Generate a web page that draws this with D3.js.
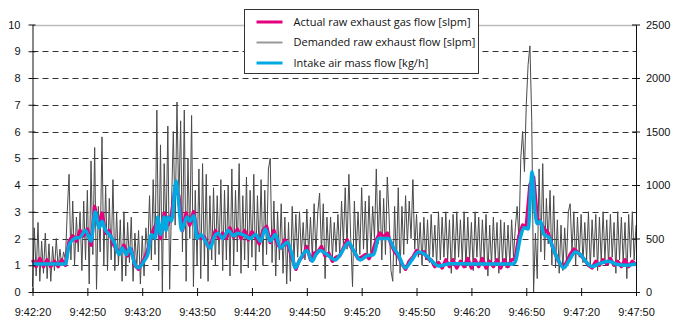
<!DOCTYPE html>
<html>
<head>
<meta charset="utf-8">
<script src="https://cdn.jsdelivr.net/npm/d3@7"></script>
<style>
  body { margin: 0; background: #fff; }
  svg { display: block; font-family: "Open Sans", sans-serif; }
  .axis text { font-size: 11px; fill: #111; }
  .axis path, .axis line { stroke: #111; }
</style>
</head>
<body>
<section></section>
<script>
// x tick labels (every 30 s from 9:42:20)
const xTickLabels = ["9:42:20", "9:42:50", "9:43:20", "9:43:50", "9:44:20", "9:44:50",
  "9:45:20", "9:45:50", "9:46:20", "9:46:50", "9:47:20", "9:47:50"];
const leftTicks = [0, 1, 2, 3, 4, 5, 6, 7, 8, 9, 10];
const rightTicks = [0, 500, 1000, 1500, 2000, 2500];
const seriesNames = ["Actual raw exhaust gas flow [slpm]", "Demanded raw exhaust flow [slpm]", "Intake air mass flow [kg/h]"];

// demanded raw exhaust flow [slpm], one value per second from 9:42:20
const demanded = [
  0.2, 2.4, 0.6, 2.6, 0.4, 1.9, 0.7, 2.2, 0.5, 1.8,
  0.4, 1.7, 0.8, 2.0, 0.9, 1.6, 1.0, 1.5, 1.2, 3.0,
  4.4, 1.2, 3.4, 1.0, 2.8, 1.5, 3.0, 0.8, 3.4, 1.2,
  3.8, 0.3, 4.9, 1.4, 5.4, 0.1, 3.2, 1.5, 5.8, 1.0,
  4.0, 0.8, 3.5, 1.2, 4.2, 0.8, 3.0, 1.0, 2.7, 0.4,
  3.0, 0.6, 2.6, 1.1, 2.8, 0.4, 2.2, 0.9, 2.3, 0.3,
  2.1, 0.6, 2.4, 1.5, 3.6, 1.2, 4.2, 1.4, 6.8, 0.8,
  5.5, 0.0, 4.8, 2.0, 6.2, 0.1, 3.2, 6.0, 2.5, 7.1,
  3.2, 6.4, 1.5, 6.8, 0.4, 5.0, 2.0, 6.6, 0.2, 3.8,
  1.0, 4.6, 0.5, 4.8, 1.0, 4.4, 0.4, 3.6, 1.2, 3.9,
  1.0, 3.6, 1.4, 4.2, 0.8, 3.8, 1.2, 4.0, 0.6, 4.6,
  1.0, 3.8, 1.5, 4.8, 0.7, 3.6, 1.2, 4.3, 0.9, 3.8,
  1.3, 4.4, 0.8, 3.6, 1.5, 4.2, 1.0, 3.8, 1.4, 4.6,
  5.0, 1.1, 3.4, 0.6, 3.0, 1.2, 3.3, 0.7, 2.8, 0.3,
  2.6, 0.4, 3.2, 1.2, 2.9, 1.3, 3.0, 1.4, 2.6, 1.2,
  3.1, 1.4, 2.8, 1.3, 3.3, 1.4, 3.0, 3.7, 1.5, 3.3,
  0.5, 2.8, 1.4, 2.8, 1.3, 2.6, 1.5, 2.9, 1.4, 3.4,
  1.8, 3.9, 1.6, 4.4, 2.0, 0.2, 3.4, 1.5, 3.0, 1.4,
  3.9, 1.6, 3.4, 1.3, 3.6, 1.5, 3.2, 2.0, 4.6, 1.8,
  3.8, 1.2, 3.5, 1.4, 4.3, 2.8, 0.8, 0.4, 3.2, 1.0,
  3.9, 0.7, 3.2, 1.4, 3.6, 1.8, 3.4, 2.0, 4.2, 1.6,
  2.9, 1.3, 2.6, 1.0, 2.8, 1.2, 2.7, 1.1, 2.9, 1.3,
  2.5, 1.0, 3.0, 1.2, 2.8, 1.3, 3.0, 1.2, 2.7, 0.7,
  2.9, 1.2, 3.0, 1.3, 2.7, 1.1, 3.0, 0.9, 2.8, 1.2,
  2.6, 0.8, 3.0, 1.3, 2.8, 1.0, 2.7, 1.2, 2.9, 0.6,
  2.5, 1.0, 2.8, 1.2, 2.6, 0.7, 2.7, 1.1, 2.6, 0.9,
  2.5, 1.0, 2.7, 1.3, 2.4, 3.2, 2.0, 5.0, 6.0, 4.5,
  7.0, 8.5, 9.2, 6.4, 0.0, 2.2, 0.5, 4.6, 1.5, 4.8,
  1.2, 3.5, 1.8, 3.8, 1.0, 3.6, 0.9, 2.7, 0.7, 2.5,
  0.8, 2.4, 1.1, 3.0, 3.3, 1.5, 3.0, 1.0, 2.8, 1.3,
  2.9, 1.1, 2.6, 1.2, 3.0, 0.9, 2.7, 1.3, 2.9, 0.8,
  2.8, 1.1, 3.0, 1.2, 2.7, 1.0, 2.9, 1.3, 2.6, 0.7,
  3.0, 1.2, 2.8, 1.1, 2.6, 0.5, 2.9, 1.3, 3.0, 1.2, 2.5
];

// actual raw exhaust gas flow [slpm], one value every 2 s
const actual = [
  1.2, 0.95, 1.25, 0.95, 1.2, 0.95, 1.15, 0.95, 1.2, 1.0,
  1.9, 2.1, 1.9, 2.3, 2.1, 2.35, 1.75, 3.2, 2.5, 2.95,
  2.2, 2.3, 1.8, 1.6, 1.5, 1.75, 1.35, 1.6, 1.0, 0.85,
  1.1, 1.35, 1.8, 2.3, 2.6, 2.0, 2.95, 2.5, 2.9, 3.9,
  3.6, 2.3, 2.95, 2.5, 3.0, 2.2, 2.0, 2.05, 1.7, 1.9,
  2.3, 2.0, 2.2, 2.0, 2.4, 2.05, 2.35, 2.0, 2.3, 1.95,
  2.25, 2.05, 1.8, 2.3, 2.45, 1.85, 2.3, 1.75, 1.65, 1.95,
  1.7, 1.25, 0.85, 1.2, 1.35, 1.7, 1.2, 1.45, 1.5, 1.7,
  1.35, 1.45, 1.15, 1.3, 1.35, 1.65, 1.95, 1.7, 1.5, 1.25,
  1.3, 1.4, 1.25, 1.5, 1.95, 2.2, 2.05, 2.2, 1.8, 1.5,
  1.35, 1.05, 0.85, 1.15, 1.3, 1.55, 1.45, 1.5, 1.25, 1.2,
  0.95, 1.1, 0.9, 1.2, 0.95, 1.2, 0.9, 1.15, 0.95, 1.25,
  0.9, 1.2, 0.95, 1.25, 0.9, 1.15, 0.95, 1.2, 0.9, 1.2,
  0.95, 1.2, 1.25, 2.1, 2.5, 2.45, 4.0, 4.3, 2.75, 2.55,
  2.35, 2.2, 1.75, 1.4, 1.1, 0.95, 1.1, 1.4, 1.6, 1.5,
  1.35, 1.2, 1.0, 0.9, 1.15, 1.0, 1.2, 1.05, 1.25, 1.0,
  1.15, 0.95, 1.2, 0.95, 1.15, 1.0
];

// intake air mass flow [kg/h]: seconds from 9:42:20 and values
const intakeTime = [0, 18, 20, 23, 26, 29, 32, 34.3, 36.5, 38, 40, 42, 44.7, 47.4, 49, 51.5, 53, 56, 57.8,
  61.4, 63, 65, 67, 68.5, 70, 72, 73, 74, 76, 78.5, 80, 81.5, 84.5, 86, 88.2, 90, 92, 94.5, 97.3, 99,
  101.5, 104, 107, 110, 112, 116.4, 119, 122, 124.6, 127.3, 130, 132.8, 135.5, 139.2, 141.9, 143.7,
  145.5, 147.4, 150.1, 152.9, 155, 157.4, 161, 165.6, 168.3, 172.9, 175.6, 179.2, 182.9, 186.5, 189.3,
  194.7, 197.5, 200, 203.8, 207.5, 211.1, 214.7, 218.4, 222.1, 228.5, 240, 247.5, 263, 264.1, 266.8,
  268.7, 271, 273.2, 274.6, 276, 277.8, 279.6, 282.3, 285.1, 287.8, 290.5, 293.2, 296.9, 299.6, 302.4,
  306, 309.6, 315.1, 318.8, 324.2, 330];
const intakeFlow = [262, 262, 438, 500, 512, 575, 475, 750, 600, 662, 575, 538, 462, 350, 412, 350, 412, 262, 225,
  300, 350, 538, 500, 700, 538, 700, 575, 700, 662, 1038, 825, 575, 700, 662, 712, 500, 538, 475, 412, 500,
  550, 500, 575, 525, 550, 525, 500, 538, 475, 588, 475, 538, 412, 462, 350, 225,
  275, 338, 388, 288, 350, 388, 350, 300, 350, 462, 388, 300, 338, 350, 500,
  500, 412, 350, 225, 300, 375, 350, 288, 242, 265, 262, 262, 262, 288, 512,
  600, 588, 1125, 788, 638, 662, 538, 512, 388, 288, 225, 288, 375, 350, 288,
  238, 262, 288, 262, 250, 262];

const width = 673;
const height = 320;
const margin = { left: 32.5, right: 37, top: 24.5, bottom: 28 };

const svg = d3.select("section")
  .append("svg")
  .attr("width", width)
  .attr("height", height);

const xScale = d3.scaleLinear()
  .domain([0, 330])
  .range([margin.left, width - margin.right]);

const yScale = d3.scaleLinear()
  .domain([0, 10])
  .range([height - margin.bottom, margin.top]);

const y2Scale = d3.scaleLinear()
  .domain([0, 2500])
  .range([height - margin.bottom, margin.top]);

//Grid lines
svg.append("g")
  .selectAll("line")
  .data(leftTicks.filter(d => d > 0))
  .enter()
  .append("line")
  .attr("x1", margin.left)
  .attr("x2", width - margin.right)
  .attr("y1", d => Math.round(yScale(d)) + 0.5)
  .attr("y2", d => Math.round(yScale(d)) + 0.5)
  .attr("stroke", d => d === 10 ? "#bbb" : "#333")
  .attr("stroke-width", d => d === 10 ? 1.5 : 1)
  .attr("stroke-dasharray", d => d === 10 ? null : "6,4");

//Series lines
const demandLine = d3.line()
  .x((d, i) => xScale(i))
  .y(d => yScale(d));

const actualLine = d3.line()
  .x((d, i) => xScale(i * 2))
  .y(d => yScale(d));

const intakeLine = d3.line()
  .x((d, i) => xScale(intakeTime[i]))
  .y(d => y2Scale(d))
  .curve(d3.curveMonotoneX);

svg.append("path")
  .datum(demanded)
  .attr("d", demandLine)
  .attr("fill", "none")
  .attr("stroke", "#4a4a4a")
  .attr("stroke-width", 1);

svg.append("path")
  .datum(actual)
  .attr("d", actualLine)
  .attr("fill", "none")
  .attr("stroke", "#e4007c")
  .attr("stroke-width", 3.5)
  .attr("stroke-linejoin", "round");

svg.append("path")
  .datum(intakeFlow)
  .attr("d", intakeLine)
  .attr("fill", "none")
  .attr("stroke", "#00a9e2")
  .attr("stroke-width", 3.5)
  .attr("stroke-linejoin", "round");

//Axes (ticks cross the axis line)
const xAxis = d3.axisBottom(xScale)
  .tickValues(xTickLabels.map((l, i) => i * 30))
  .tickFormat((d, i) => xTickLabels[i])
  .tickSize(4)
  .tickSizeOuter(0)
  .tickPadding(12);

svg.append("g")
  .attr("class", "axis")
  .attr("transform", "translate(0," + (height - margin.bottom) + ")")
  .call(xAxis)
  .call(g => g.selectAll(".tick line").attr("y1", -4).attr("y2", 4));

const yAxis = d3.axisLeft(yScale)
  .tickValues(leftTicks)
  .tickSize(4)
  .tickSizeOuter(0)
  .tickPadding(8);

svg.append("g")
  .attr("class", "axis")
  .attr("transform", "translate(" + margin.left + ",0)")
  .call(yAxis)
  .call(g => g.selectAll(".tick line").attr("x1", -4).attr("x2", 3));

const y2Axis = d3.axisRight(y2Scale)
  .tickValues(rightTicks)
  .tickFormat(d3.format("d"))
  .tickSize(4)
  .tickSizeOuter(0)
  .tickPadding(6);

svg.append("g")
  .attr("class", "axis")
  .attr("transform", "translate(" + (width - margin.right) + ",0)")
  .call(y2Axis)
  .call(g => g.selectAll(".tick line").attr("x1", -4).attr("x2", 4));

//Legend
const legendColors = ["#e4007c", "#999", "#00a9e2"];
const legendWidths = [3, 2, 3];
const legend = svg.append("g")
  .attr("transform", "translate(244.5,9.5)");

legend.append("rect")
  .attr("width", 234)
  .attr("height", 64)
  .attr("fill", "#fff")
  .attr("stroke", "#333");

const rows = legend.selectAll(".row")
  .data(seriesNames)
  .enter()
  .append("g")
  .attr("transform", (d, i) => "translate(0," + (12.5 + i * 20.5) + ")");

rows.append("line")
  .attr("x1", 12)
  .attr("x2", 38)
  .attr("stroke", (d, i) => legendColors[i])
  .attr("stroke-width", (d, i) => legendWidths[i]);

rows.append("text")
  .attr("x", 49)
  .attr("dy", "0.35em")
  .attr("font-size", 11)
  .attr("fill", "#111")
  .text(d => d);
</script>
</body>
</html>
